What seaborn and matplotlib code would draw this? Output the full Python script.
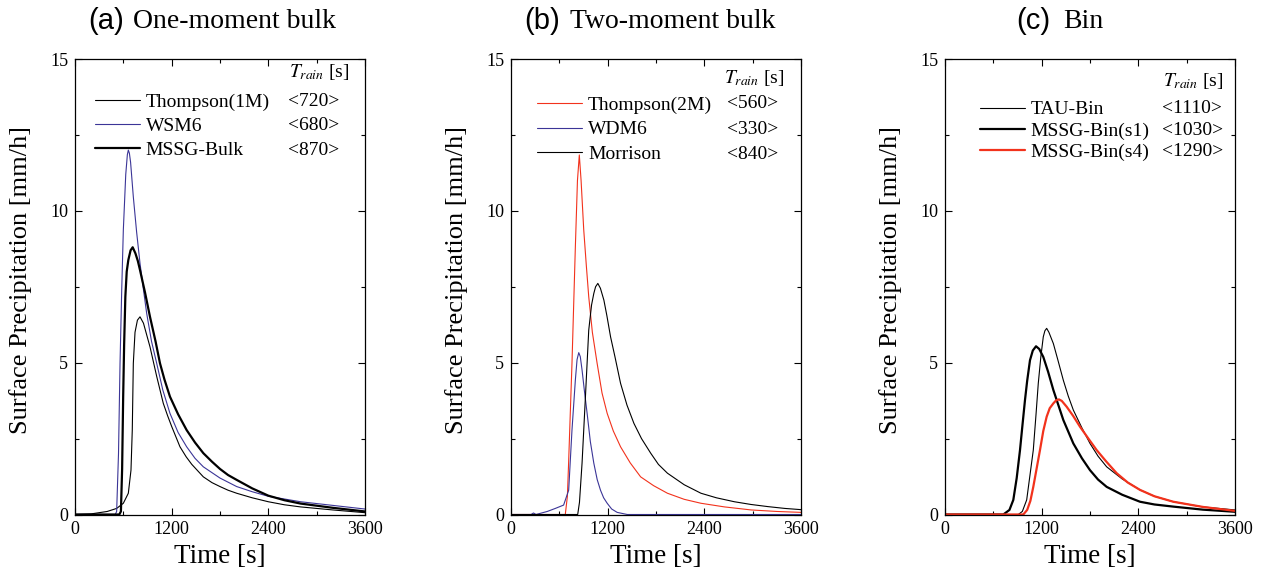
import numpy as np
import pandas as pd
import seaborn as sns
import matplotlib.pyplot as plt
from matplotlib.ticker import MultipleLocator

# valores (tempo em s, precipitação em mm/h)
# (a) one-moment bulk
t_thompson1m = [0, 200, 400, 517, 600, 662, 695, 711, 724, 745, 775, 807, 850, 931, 1014, 1096, 1150, 1200, 1303, 1380, 1450, 1593, 1700, 1800, 1900, 2007, 2200, 2400, 2600, 2800, 3200, 3600]
p_thompson1m = [0, 0.02, 0.1, 0.2, 0.37, 0.7, 1.46, 2.78, 4.98, 6.0, 6.4, 6.51, 6.3, 5.52, 4.55, 3.66, 3.25, 2.9, 2.23, 1.9, 1.65, 1.24, 1.05, 0.92, 0.8, 0.70, 0.55, 0.42, 0.32, 0.25, 0.15, 0.06]
t_wsm6 = [0, 500, 517, 540, 559, 580, 600, 630, 650, 662, 675, 690, 724, 765, 807, 850, 890, 950, 1014, 1090, 1179, 1280, 1386, 1490, 1593, 1800, 2007, 2200, 2400, 2800, 3200, 3600]
p_wsm6 = [0, 0, 0.1, 2.0, 4.98, 7.4, 9.37, 11.2, 11.85, 12.0, 11.9, 11.6, 10.46, 9.3, 8.27, 7.4, 6.62, 5.7, 4.98, 4.1, 3.33, 2.7, 2.23, 1.85, 1.57, 1.2, 0.92, 0.75, 0.6, 0.42, 0.3, 0.18]
t_mssg_bulk = [0, 550, 570, 585, 598, 610, 625, 642, 662, 690, 716, 750, 780, 807, 870, 931, 1000, 1055, 1110, 1179, 1280, 1386, 1490, 1593, 1700, 1800, 1900, 2007, 2200, 2400, 2600, 2800, 3200, 3600]
p_mssg_bulk = [0, 0, 0.1, 1.5, 3.88, 5.6, 7.17, 8.0, 8.38, 8.7, 8.8, 8.6, 8.35, 8.05, 7.3, 6.51, 5.7, 4.98, 4.45, 3.88, 3.3, 2.78, 2.37, 2.02, 1.74, 1.5, 1.3, 1.14, 0.86, 0.62, 0.47, 0.36, 0.22, 0.1]

# (b) two-moment bulk
t_thompson2m = [0, 674, 700, 715, 757, 799, 825, 848, 870, 903, 935, 965, 1010, 1069, 1130, 1194, 1270, 1360, 1480, 1609, 1770, 1942, 2150, 2358, 2650, 2981, 3300, 3600]
p_thompson2m = [0, 0, 0.6, 1.69, 4.98, 8.82, 11.0, 11.84, 11.0, 9.37, 8.2, 7.17, 6.0, 4.98, 4.0, 3.33, 2.75, 2.23, 1.7, 1.24, 0.95, 0.70, 0.5, 0.37, 0.25, 0.15, 0.1, 0.07]
t_wdm6 = [0, 250, 279, 310, 450, 550, 653, 716, 757, 799, 820, 841, 860, 882, 910, 945, 985, 1028, 1070, 1111, 1150, 1194, 1250, 1318, 1443, 3600]
p_wdm6 = [0, 0, 0.05, 0, 0.1, 0.2, 0.31, 0.8, 2.78, 4.43, 5.1, 5.33, 5.2, 4.76, 4.1, 3.33, 2.4, 1.69, 1.15, 0.8, 0.55, 0.37, 0.18, 0.07, 0, 0]
t_morrison = [0, 828, 850, 882, 924, 965, 1000, 1028, 1050, 1078, 1110, 1153, 1190, 1236, 1290, 1360, 1440, 1526, 1620, 1734, 1830, 1942, 2150, 2358, 2550, 2773, 2980, 3189, 3400, 3600]
p_morrison = [0, 0, 0.4, 1.69, 3.88, 6.07, 6.9, 7.28, 7.5, 7.61, 7.45, 7.06, 6.55, 5.85, 5.2, 4.32, 3.6, 3.0, 2.5, 2.02, 1.65, 1.36, 0.98, 0.70, 0.55, 0.42, 0.33, 0.26, 0.2, 0.16]

# (c) bin
t_tau = [0, 910, 960, 1014, 1050, 1096, 1130, 1158, 1190, 1220, 1240, 1262, 1290, 1345, 1400, 1469, 1530, 1593, 1700, 1800, 1900, 2007, 2200, 2421, 2600, 2834, 3200, 3600]
p_tau = [0, 0, 0.1, 0.48, 1.2, 2.12, 3.3, 4.32, 5.2, 5.85, 6.05, 6.13, 6.0, 5.63, 5.1, 4.42, 3.9, 3.44, 2.85, 2.34, 1.92, 1.57, 1.17, 0.81, 0.6, 0.42, 0.25, 0.15]
t_bin_s1 = [0, 724, 800, 848, 890, 931, 960, 993, 1020, 1055, 1090, 1130, 1170, 1220, 1280, 1345, 1469, 1593, 1700, 1800, 1900, 2007, 2200, 2421, 2600, 2834, 3200, 3600]
p_bin_s1 = [0, 0, 0.15, 0.48, 1.2, 2.12, 2.9, 3.77, 4.4, 5.08, 5.4, 5.54, 5.45, 5.19, 4.7, 4.10, 3.11, 2.34, 1.85, 1.46, 1.15, 0.91, 0.65, 0.42, 0.33, 0.26, 0.16, 0.09]
t_bin_s4 = [0, 972, 1020, 1060, 1096, 1140, 1179, 1220, 1262, 1300, 1345, 1380, 1415, 1450, 1510, 1590, 1676, 1780, 1883, 2000, 2131, 2270, 2421, 2600, 2834, 3200, 3600]
p_bin_s4 = [0, 0, 0.15, 0.45, 0.91, 1.55, 2.12, 2.75, 3.22, 3.5, 3.66, 3.76, 3.79, 3.74, 3.55, 3.25, 2.89, 2.5, 2.12, 1.75, 1.36, 1.05, 0.81, 0.6, 0.42, 0.25, 0.12]

titles = ["One-moment bulk", "Two-moment bulk", "Bin"]
letras = ["(a)", "(b)", "(c)"]
nomes = [["Thompson(1M)", "WSM6", "MSSG-Bulk"],
         ["Thompson(2M)", "WDM6", "Morrison"],
         ["TAU-Bin", "MSSG-Bin(s1)", "MSSG-Bin(s4)"]]
train = [["<720>", "<680>", "<870>"],
         ["<560>", "<330>", "<840>"],
         ["<1110>", "<1030>", "<1290>"]]

series = [[(t_thompson1m, p_thompson1m), (t_wsm6, p_wsm6), (t_mssg_bulk, p_mssg_bulk)],
          [(t_thompson2m, p_thompson2m), (t_wdm6, p_wdm6), (t_morrison, p_morrison)],
          [(t_tau, p_tau), (t_bin_s1, p_bin_s1), (t_bin_s4, p_bin_s4)]]

azul = "#3b3597"
vermelho = "#f2321c"
cores = [["black", azul, "black"], [vermelho, azul, "black"], ["black", "black", vermelho]]
larguras = [[0.8, 0.8, 1.6], [0.8, 0.8, 0.8], [0.8, 1.6, 1.6]]

sns.set_theme(style="ticks")
plt.rcParams['font.family'] = ['Liberation Serif', 'DejaVu Serif']
plt.rcParams['mathtext.fontset'] = 'stix'
for k in ['text.color', 'axes.labelcolor', 'xtick.color', 'ytick.color', 'axes.edgecolor']:
    plt.rcParams[k] = 'black'

fig = plt.figure(figsize=(12.65, 5.79), dpi=100)
lefts = [75, 511, 945]

# posições dos textos do legend (fração dos eixos)
leg_x = [0.069, 0.091, 0.121]
leg_y = [0.853, 0.845, 0.842]
leg_sp = [0.33, 0.37, 0.19]
val_x = [0.735, 0.745, 0.748]
row_y = [[0.906, 0.853, 0.800], [0.902, 0.845, 0.791], [0.891, 0.842, 0.796]]
head = [(0.739, 0.972), (0.733, 0.958), (0.753, 0.952)]
title_x = [(88, 133), (524, 570), (1016, 1063)]

for i in range(3):
    ax = fig.add_axes([lefts[i] / 1265, (579 - 514.5) / 579, 290 / 1265, 455.5 / 579])
    for j in range(3):
        t, p = series[i][j]
        sns.lineplot(x=t, y=p, color=cores[i][j], linewidth=larguras[i][j],
                     label=nomes[i][j], ax=ax)
    ax.set_xlim(0, 3600)
    ax.set_ylim(0, 15)
    ax.set_xticks([0, 1200, 2400, 3600])
    ax.set_yticks([0, 5, 10, 15])
    ax.xaxis.set_minor_locator(MultipleLocator(600))
    ax.yaxis.set_minor_locator(MultipleLocator(2.5))
    ax.tick_params(which='both', direction='in', top=True, right=True, width=0.8, color='black')
    ax.tick_params(which='major', length=5, labelsize=13, pad=5)
    ax.tick_params(which='minor', length=3)
    for s in ax.spines.values():
        s.set_color('black')
        s.set_linewidth(0.9)
    ax.set_xlabel("Time [s]", fontsize=19.5, labelpad=4)
    ax.set_ylabel("Surface Precipitation [mm/h]", fontsize=19, labelpad=13)
    ax.yaxis.label.set_y(0.515)

    ax.legend(loc='center left', bbox_to_anchor=(leg_x[i], leg_y[i]), frameon=False,
              fontsize=14, handlelength=2.3, handletextpad=0.3, labelspacing=leg_sp[i],
              borderpad=0, borderaxespad=0)
    for j in range(3):
        ax.text(val_x[i], row_y[i][j], train[i][j], transform=ax.transAxes,
                va='center', ha='left', fontsize=14)
    ax.text(head[i][0], head[i][1], r"$T_{rain}$ [s]", transform=ax.transAxes,
            va='center', ha='left', fontsize=14)

    fig.text(title_x[i][0] / 1265, 1 - 21 / 579, letras[i], family='Liberation Sans',
             fontsize=21, va='center', ha='left')
    fig.text(title_x[i][1] / 1265, 1 - 21 / 579, titles[i],
             fontsize=20, va='center', ha='left')

fig.savefig("out.png", dpi=100)
